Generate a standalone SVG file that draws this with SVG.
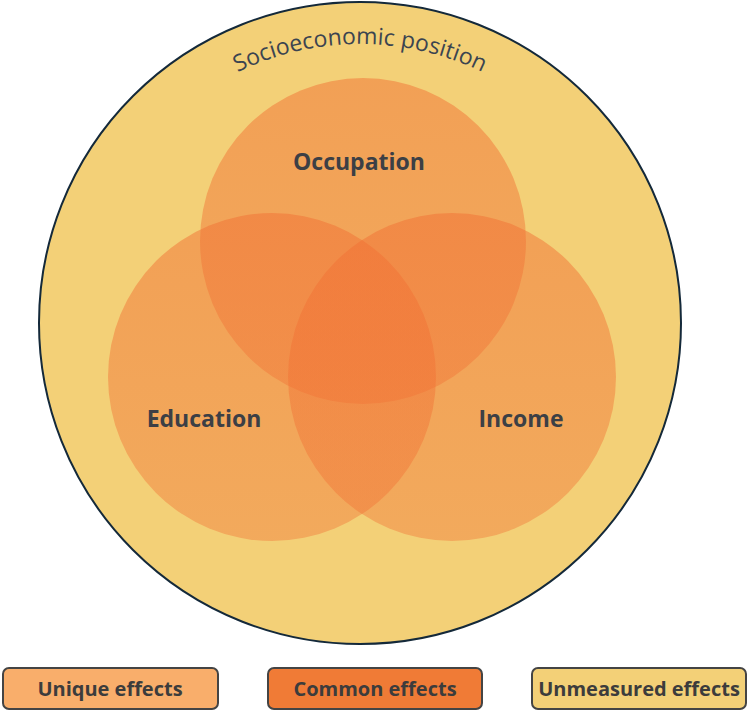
<svg xmlns="http://www.w3.org/2000/svg" width="750" height="718" viewBox="0 0 750 718">
<defs>
<linearGradient id="og" x1="0" y1="0" x2="0" y2="1">
<stop offset="0" stop-color="#f17034" stop-opacity="0.5"/>
<stop offset="1" stop-color="#f17034" stop-opacity="0.4"/>
</linearGradient>
<path id="arc" d="M 81,323 A 279,279 0 0 1 639,323"/>
</defs>
<style>
.venn{fill:url(#og);}
.lbl{font-family:"Open Sans","Noto Sans",sans-serif;font-weight:bold;font-size:23px;fill:#3c3f45;text-anchor:middle;}
.box{stroke:#444;stroke-width:2;}
.leg{font-family:"Open Sans","Noto Sans",sans-serif;font-weight:bold;font-size:20px;fill:#3c3c3c;text-anchor:middle;}
</style>
<g id="socioeconomic">
<circle cx="360" cy="323" r="321" fill="#f3d077" stroke="#14293a" stroke-width="2"/>
<text font-family="'Open Sans','Noto Sans',sans-serif" font-size="23" fill="#3b4450"><textPath href="#arc" startOffset="50%" text-anchor="middle">Socioeconomic position</textPath></text>
</g>
<g id="occupation">
<circle class="venn" cx="363" cy="241" r="163"/>
</g>
<g id="education">
<circle class="venn" cx="272" cy="377" r="164"/>
</g>
<g id="income">
<circle class="venn" cx="452" cy="377" r="164"/>
</g>
<g id="labels">
<text class="lbl" x="359" y="170">Occupation</text>
<text class="lbl" x="204" y="427">Education</text>
<text class="lbl" x="521" y="427">Income</text>
</g>
<g id="connectors"/>
<g id="legend-unique">
<rect class="box" x="3" y="668" width="215" height="41" rx="6" fill="#f9ae6b"/>
<text class="leg" x="110" y="696">Unique effects</text>
</g>
<g id="legend-common">
<rect class="box" x="268" y="668" width="214" height="41" rx="6" fill="#f07b36"/>
<text class="leg" x="375" y="696">Common effects</text>
</g>
<g id="legend-unmeasured">
<rect class="box" x="532" y="668" width="214" height="41" rx="6" fill="#f3d077"/>
<text class="leg" x="639" y="696">Unmeasured effects</text>
</g>
</svg>
